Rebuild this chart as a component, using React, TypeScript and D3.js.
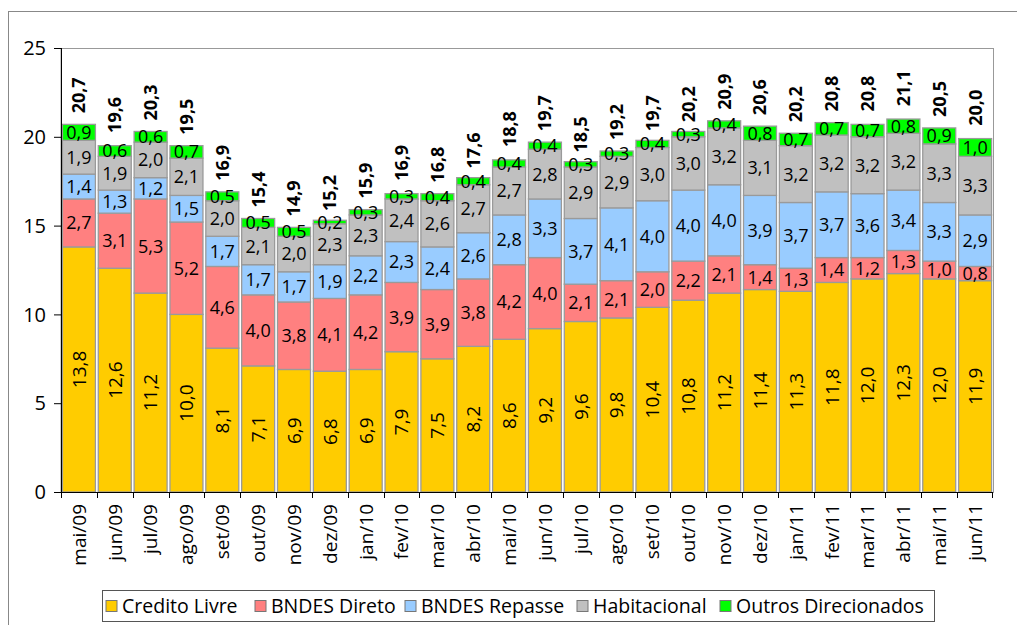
import * as d3 from "d3";

const months = [
  "mai/09", "jun/09", "jul/09", "ago/09", "set/09", "out/09", "nov/09", "dez/09",
  "jan/10", "fev/10", "mar/10", "abr/10", "mai/10", "jun/10", "jul/10", "ago/10",
  "set/10", "out/10", "nov/10", "dez/10", "jan/11", "fev/11", "mar/11", "abr/11",
  "mai/11", "jun/11",
];

const creditoLivre = [13.8, 12.6, 11.2, 10.0, 8.1, 7.1, 6.9, 6.8, 6.9, 7.9, 7.5, 8.2, 8.6, 9.2, 9.6, 9.8, 10.4, 10.8, 11.2, 11.4, 11.3, 11.8, 12.0, 12.3, 12.0, 11.9];
const bndesDireto = [2.7, 3.1, 5.3, 5.2, 4.6, 4.0, 3.8, 4.1, 4.2, 3.9, 3.9, 3.8, 4.2, 4.0, 2.1, 2.1, 2.0, 2.2, 2.1, 1.4, 1.3, 1.4, 1.2, 1.3, 1.0, 0.8];
const bndesRepasse = [1.4, 1.3, 1.2, 1.5, 1.7, 1.7, 1.7, 1.9, 2.2, 2.3, 2.4, 2.6, 2.8, 3.3, 3.7, 4.1, 4.0, 4.0, 4.0, 3.9, 3.7, 3.7, 3.6, 3.4, 3.3, 2.9];
const habitacional = [1.9, 1.9, 2.0, 2.1, 2.0, 2.1, 2.0, 2.3, 2.3, 2.4, 2.6, 2.7, 2.7, 2.8, 2.9, 2.9, 3.0, 3.0, 3.2, 3.1, 3.2, 3.2, 3.2, 3.2, 3.3, 3.3];
const outros = [0.9, 0.6, 0.6, 0.7, 0.5, 0.5, 0.5, 0.2, 0.3, 0.3, 0.4, 0.4, 0.4, 0.4, 0.3, 0.3, 0.4, 0.3, 0.4, 0.8, 0.7, 0.7, 0.7, 0.8, 0.9, 1.0];
const totals = [20.7, 19.6, 20.3, 19.5, 16.9, 15.4, 14.9, 15.2, 15.9, 16.9, 16.8, 17.6, 18.8, 19.7, 18.5, 19.2, 19.7, 20.2, 20.9, 20.6, 20.2, 20.8, 20.8, 21.1, 20.5, 20.0];

const seriesNames = ["Credito Livre", "BNDES Direto", "BNDES Repasse", "Habitacional", "Outros Direcionados"];
const seriesValues = [creditoLivre, bndesDireto, bndesRepasse, habitacional, outros];
const colors = ["#FFCC00", "#FF8080", "#99CCFF", "#C0C0C0", "#00FF00"];
const yTicks = [0, 5, 10, 15, 20, 25];

const FONT = "'Open Sans', 'Liberation Sans', sans-serif";
const fmt = (v: number) => v.toFixed(1).replace(".", ",");

export default function App() {
  const left = 61, right = 993, top = 48, bottom = 492;

  const x = d3.scaleBand<string>().domain(months).range([left, right]).paddingInner(0.08).paddingOuter(0.04);
  const y = d3.scaleLinear().domain([0, 25]).range([bottom, top]);

  const rows = months.map((m, i) => {
    const r: any = { month: m };
    seriesNames.forEach((s, k) => (r[s] = seriesValues[k][i]));
    return r;
  });
  const stacked = d3.stack<any>().keys(seriesNames)(rows);

  const step = x.step();
  const half = (step * 0.08) / 2;

  // legend squares x
  const legendX = [106, 255, 405, 577, 720];

  return (
    <svg width={1017} height={625} style={{ position: "absolute", left: 0, top: 0, background: "#fff" }} fontFamily={FONT}>
      {/* outer frame */}
      <rect x={8.5} y={11.5} width={1020} height={640} fill="none" stroke="#888" />
      {/* plot area */}
      <rect x={left} y={top + 0.5} width={right - left + 0.5} height={bottom - top} fill="none" stroke="#999" />

      {stacked.map((layer, k) => (
        <g key={layer.key}>
          {layer.map((d, i) => {
            const x0 = x(months[i])!;
            const y0 = y(d[1]);
            const h = y(d[0]) - y(d[1]);
            const cx = x0 + x.bandwidth() / 2;
            const cy = y0 + h / 2;
            const v = seriesValues[k][i];
            return (
              <g key={i}>
                <rect x={x0} y={y0} width={x.bandwidth()} height={h} fill={colors[k]} stroke="#9a9a9a" strokeWidth={1.3} />
                {k === 0 ? (
                  <text transform={`translate(${cx},${cy}) rotate(-90)`} textAnchor="middle" dy="0.36em" fontSize={19}>
                    {fmt(v)}
                  </text>
                ) : (
                  <text x={cx} y={cy} textAnchor="middle" dy="0.36em" fontSize={18}>
                    {fmt(v)}
                  </text>
                )}
              </g>
            );
          })}
        </g>
      ))}

      {/* totals */}
      {months.map((m, i) => {
        const cx = x(m)! + x.bandwidth() / 2;
        const ty = y(totals[i]) - 11;
        return (
          <text key={m} transform={`translate(${cx},${ty}) rotate(-90)`} textAnchor="start" dy="0.36em" fontSize={18} fontWeight="bold">
            {fmt(totals[i])}
          </text>
        );
      })}

      {/* y axis */}
      <line x1={left + 0.5} x2={left + 0.5} y1={top} y2={bottom} stroke="#000" />
      {yTicks.map((t) => (
        <g key={t}>
          <line x1={54} x2={left} y1={y(t) + 0.5} y2={y(t) + 0.5} stroke="#000" />
          <text x={46} y={y(t)} dy="0.36em" textAnchor="end" fontSize={20}>
            {t}
          </text>
        </g>
      ))}

      {/* x axis */}
      <line x1={left} x2={right} y1={bottom + 0.5} y2={bottom + 0.5} stroke="#000" />
      {months.map((m) => (
        <line key={"t" + m} x1={Math.round(x(m)! - half) + 0.5} x2={Math.round(x(m)! - half) + 0.5} y1={bottom} y2={bottom + 6} stroke="#000" />
      ))}
      <line x1={right - 0.5} x2={right - 0.5} y1={bottom} y2={bottom + 6} stroke="#000" />
      {months.map((m) => {
        const cx = x(m)! + x.bandwidth() / 2;
        return (
          <text key={"l" + m} transform={`translate(${cx},${bottom + 12}) rotate(-90)`} textAnchor="end" dy="0.36em" fontSize={19}>
            {m}
          </text>
        );
      })}

      {/* legend */}
      <rect x={102.5} y={590.5} width={832} height={31} fill="#fff" stroke="#555" />
      {seriesNames.map((s, k) => (
        <g key={s}>
          <rect x={legendX[k]} y={600.5} width={11} height={11} fill={colors[k]} stroke="#777" />
          <text x={legendX[k] + 16} y={606} dy="0.36em" fontSize={19.5}>
            {s}
          </text>
        </g>
      ))}
    </svg>
  );
}
